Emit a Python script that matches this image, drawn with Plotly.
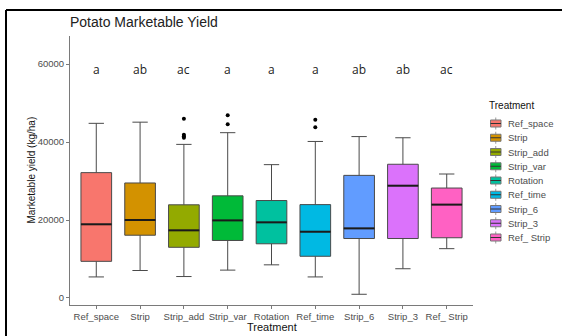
import plotly.graph_objects as go

# Treatment groups and their boxplot summaries (kg/ha)
treatments = ["Ref_space", "Strip", "Strip_add", "Strip_var", "Rotation",
              "Ref_time", "Strip_6", "Strip_3", "Ref_ Strip"]
colors = ["#F8766D", "#D39200", "#93AA00", "#00BA38", "#00C19F",
          "#00B9E3", "#619CFF", "#DB72FB", "#FF61C3"]

lower_whisker = [5400, 7050, 5500, 7150, 8500, 5400, 950, 7500, 12650]
q1 = [9400, 16100, 13000, 14750, 13900, 10700, 15250, 15250, 15450]
median = [18900, 20000, 17350, 19900, 19400, 17000, 17850, 28800, 23950]
q3 = [32150, 29500, 23900, 26200, 25000, 23950, 31450, 34300, 28200]
upper_whisker = [44800, 45100, 39400, 42400, 34200, 40150, 41400, 41100, 31800]

outliers = [[], [], [46000, 41900, 41500, 41100], [46900, 44550], [],
            [45700, 43800], [], [], []]

# Compact letter display from the mean separation test
letters = ["a", "ab", "ac", "a", "a", "a", "ab", "ab", "ac"]
letter_y = 58500

y_ticks = [0, 20000, 40000, 60000]

# Figure geometry (pixels)
W, H = 562, 336
ML, MR, MT, MB = 70, 89, 36, 31
PW, PH = W - ML - MR, H - MT - MB


def px_x(px):
    return (px - ML) / PW


def px_y(py):
    return (H - MB - py) / PH


BOX_W = 0.7
LINE_C = "#4a4a4a"
positions = list(range(1, len(treatments) + 1))

fig = go.Figure()

for i, name in enumerate(treatments):
    fig.add_trace(go.Box(
        x=[positions[i]], q1=[q1[i]], median=[median[i]], q3=[q3[i]],
        lowerfence=[lower_whisker[i]], upperfence=[upper_whisker[i]],
        name=name, fillcolor=colors[i],
        line=dict(color=LINE_C, width=1),
        width=BOX_W, whiskerwidth=0.5, boxpoints=False,
        hoverinfo="skip", showlegend=False,
    ))

# Thicker median bars drawn over the boxes
mx, my = [], []
for i in range(len(treatments)):
    mx += [positions[i] - BOX_W / 2, positions[i] + BOX_W / 2, None]
    my += [median[i], median[i], None]
fig.add_trace(go.Scatter(x=mx, y=my, mode="lines",
                         line=dict(color="#1a1a1a", width=2),
                         showlegend=False, hoverinfo="skip"))

# Outlying observations
ox, oy = [], []
for i, pts in enumerate(outliers):
    for v in pts:
        ox.append(positions[i])
        oy.append(v)
fig.add_trace(go.Scatter(x=ox, y=oy, mode="markers",
                         marker=dict(color="black", size=4),
                         showlegend=False, hoverinfo="skip"))

for i, lab in enumerate(letters):
    fig.add_annotation(x=positions[i], y=letter_y, text=lab, showarrow=False,
                       xanchor="center", yanchor="middle",
                       font=dict(family="Open Sans", size=12, color="#222222"),
                       xref="x", yref="y")


def paper_text(px, py, text, size, color, xanchor="center", angle=0):
    fig.add_annotation(x=px_x(px), y=px_y(py), xref="paper", yref="paper",
                       text=text, showarrow=False, textangle=angle,
                       xanchor=xanchor, yanchor="middle",
                       font=dict(family="Liberation Sans", size=size, color=color))


# Axis titles
paper_text(271.5, 327, "Treatment", 11, "#111111")
paper_text(31, 170.5, "Marketable yield (kg/ha)", 10, "#111111", angle=-90)

# Legend drawn as boxplot keys
paper_text(487, 105, "Treatment", 10, "#111111", xanchor="left")
key_x0, key_x1 = 490.5, 501
for k, (name, col) in enumerate(zip(treatments, colors)):
    cy = 123.5 + 14.25 * k
    xc = (key_x0 + key_x1) / 2
    # whisker stubs
    fig.add_shape(type="line", xref="paper", yref="paper",
                  x0=px_x(xc), x1=px_x(xc), y0=px_y(cy - 6), y1=px_y(cy + 6),
                  line=dict(color="#9a9a9a", width=1))
    fig.add_shape(type="rect", xref="paper", yref="paper",
                  x0=px_x(key_x0), x1=px_x(key_x1),
                  y0=px_y(cy - 3.5), y1=px_y(cy + 3.5),
                  fillcolor=col, line=dict(color="#777777", width=1))
    fig.add_shape(type="line", xref="paper", yref="paper",
                  x0=px_x(key_x0), x1=px_x(key_x1), y0=px_y(cy), y1=px_y(cy),
                  line=dict(color="#333333", width=1))
    paper_text(506, cy, name, 9.5, "#4d4d4d", xanchor="left")

# Outer frame lines (top and left)
fig.add_shape(type="line", xref="paper", yref="paper",
              x0=px_x(6), x1=px_x(W + 2), y0=px_y(10), y1=px_y(10),
              line=dict(color="black", width=2))
fig.add_shape(type="line", xref="paper", yref="paper",
              x0=px_x(6), x1=px_x(6), y0=px_y(H + 2), y1=px_y(10),
              line=dict(color="black", width=2))

axis_font = dict(family="Liberation Sans", size=9.5, color="#4d4d4d")

fig.update_layout(
    width=W, height=H,
    margin=dict(l=ML, r=MR, t=MT, b=MB, autoexpand=False),
    paper_bgcolor="white", plot_bgcolor="white",
    boxmode="overlay", showlegend=False,
    font=dict(family="Liberation Sans", color="#222222"),
    title=dict(text="Potato Marketable Yield", x=ML / W, xanchor="left",
               y=1 - 22 / H, yanchor="middle",
               font=dict(family="Liberation Sans", size=14, color="#222222")),
    xaxis=dict(range=[0.4, 9.6], tickvals=positions, ticktext=treatments,
               showline=True, linecolor="#7a7a7a", linewidth=1,
               ticks="outside", ticklen=3, tickcolor="#7a7a7a",
               showgrid=False, zeroline=False, tickfont=axis_font,
               automargin=False),
    yaxis=dict(range=[-1800, 67200], tickvals=y_ticks,
               ticktext=[str(v) for v in y_ticks],
               showline=True, linecolor="#7a7a7a", linewidth=1,
               ticks="outside", ticklen=3, tickcolor="#7a7a7a",
               showgrid=False, zeroline=False, tickfont=axis_font,
               automargin=False),
)

fig.write_html("out.html")
